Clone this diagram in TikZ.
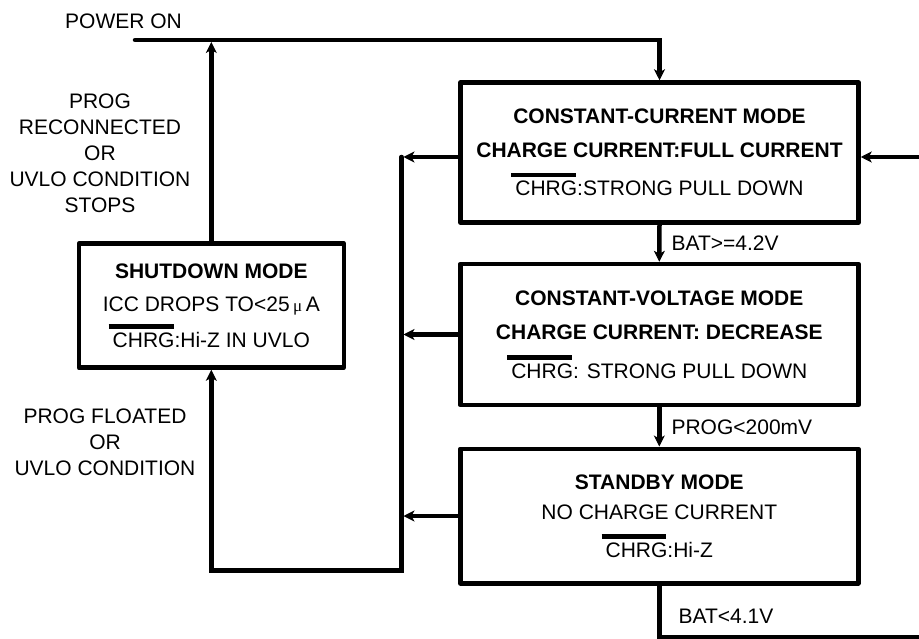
\documentclass[tikz,border=0pt]{standalone}
\usepackage{fontspec}
\setmainfont{Liberation Sans}
\newfontfamily\mufont{Liberation Serif}
\usetikzlibrary{arrows.meta}

% CHRG with its thick bar on top
\newcommand{\chrg}{\leavevmode\setbox0\hbox{CHRG}\rlap{\hspace{-4pt}\rule[18.5pt]{\dimexpr\wd0+3pt\relax}{4.5pt}}\box0}

\begin{document}
\begin{tikzpicture}[
    x=1pt, y=-1pt,
    mode/.style={draw, line width=4.5pt, line join=round, align=center, inner sep=0pt,
        font=\fontsize{21pt}{34pt}\selectfont},
    wide/.style={mode, minimum width=398pt},
    link/.style={line width=4.5pt, line cap=round},
    arrow/.style={link, -{Stealth[length=11pt, width=11pt, inset=3pt, line width=1pt]}},
    note/.style={font=\fontsize{21pt}{26pt}\selectfont, align=center, inner sep=0pt}
]
\useasboundingbox (0,0) rectangle (919,639);
\clip (0,0) rectangle (919,639);

% ----------------- 1. mode boxes -----------------
\node[wide, minimum height=140pt] (cc) at (659.5,152.5)
    {\textbf{CONSTANT-CURRENT MODE}\\ \textbf{CHARGE CURRENT:FULL CURRENT}\\[4pt] \chrg:STRONG PULL DOWN};
\node[wide, minimum height=141pt] (cv) at (659.3,334.5)
    {\textbf{CONSTANT-VOLTAGE MODE}\\ \textbf{CHARGE CURRENT: DECREASE}\\[5pt] \chrg: STRONG PULL DOWN};
\node[wide, minimum height=134.5pt] (sb) at (659.3,516)
    {\textbf{STANDBY MODE}\\[-4pt] NO CHARGE CURRENT\\[4pt] \chrg:Hi-Z};
\node[mode, minimum width=265pt, minimum height=124pt] (sd) at (211.3,305.6)
    {\textbf{SHUTDOWN MODE}\\[-1pt] ICC DROPS TO<25\,{\mufont\fontsize{17pt}{17pt}\selectfont μ}\,A\\[2pt] \chrg:Hi-Z IN UVLO};

% free ends of the lines
\coordinate (pwr) at (135,40);
\coordinate (bus) at (401.5,157);
\coordinate (busend) at (401.5,570.5);
\coordinate (loop) at (940,637);

% texts beside the lines
\node[note] (pwrtxt) at (123.5,21.5) {POWER ON};
\node[note] (backtxt) at (100,153.5) {PROG\\RECONNECTED\\OR\\UVLO CONDITION\\STOPS};
\node[note] (offtxt) at (105,442.5) {PROG FLOATED\\OR\\UVLO CONDITION};

% ----------------- 2. connectors -----------------
\draw[arrow] (pwr) -| (cc.north);
\draw[arrow, shorten >=2pt] (sd.north) -- (sd.north |- pwr);

\draw[arrow] (cc.south) -- node[note, right=10pt] {BAT>=4.2V} (cv.north);
\draw[arrow] (cv.south) -- node[note, right=10pt] {PROG<200mV} (sb.north);
\draw[arrow] (sb.south) |- node[note, pos=0.3, right=17pt] {BAT<4.1V} (loop) |- (cc.east |- bus);

% left side bus down to the shutdown box
\draw[arrow, shorten >=2pt] (cc.west |- bus) -- (bus);
\draw[arrow, shorten >=2pt] (cv.west) -- (cv.west -| bus);
\draw[arrow, shorten >=2pt] (sb.west) -- (sb.west -| bus);
\draw[arrow] (bus) -- (busend) -| (sd.south);

\end{tikzpicture}
\end{document}
